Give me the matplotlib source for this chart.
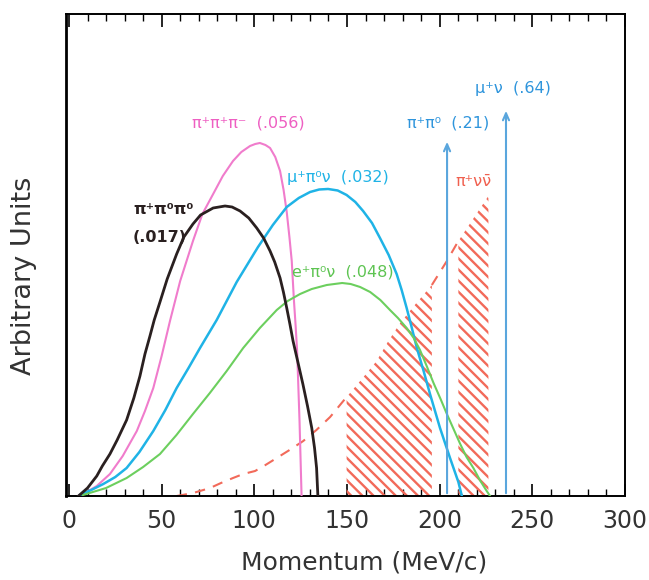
import matplotlib.pyplot as plt
import numpy as np
from matplotlib.ticker import MultipleLocator

# momentum spectra (x in MeV/c, y in arbitrary units)
x_3pi0 = [5.1, 10, 15, 18, 22.1, 26, 31.1, 35, 38.3, 41, 43.7, 46, 49.1, 53,
          58.1, 62, 66.9, 71, 77.8, 84.2, 88, 92.3, 97, 101.3, 105, 108.5,
          111, 113.9, 115.7, 117.5, 119.2, 120.9, 123.5, 126.2, 128.7, 131.0,
          132.5, 133.6, 134.3]
y_3pi0 = [0, 8, 20, 30, 42, 56, 76, 98, 120, 142, 160, 176, 194, 217,
          242, 259, 272, 281, 288, 290, 289, 285, 278, 268, 258, 245,
          234, 218, 204, 188, 172, 155, 134, 112, 90, 68,
          48, 28, 0]

x_3pi = [7.7, 15, 22.1, 29, 36.6, 41, 45.5, 50, 54.5, 60, 66.9, 72, 77.8, 83,
         88.5, 93, 97.7, 100.5, 103.0, 106, 108.5, 111.3, 113.9, 115.8, 117.5,
         119, 120.2, 121.4, 122.3, 123.1, 124.4, 125.5]
y_3pi = [2, 10, 22, 40, 65, 85, 108, 140, 175, 215, 255, 282, 302, 320,
         335, 344, 350, 352, 353, 351, 348, 339, 325, 306, 284,
         258, 235, 195, 170, 145, 75, 0]

x_mu3 = [5.9, 12, 18.5, 25, 31.1, 38, 45.5, 52, 58.1, 64.5, 70.7, 79.7, 90.5,
         102, 110, 117.5, 124, 130.1, 135, 139.8, 145, 149.8, 154.5, 158.7,
         163.5, 167.8, 172.5, 176.8, 179.5, 182.2, 185, 187.7, 191.5, 194.8,
         200.2, 205.6, 210.1, 212.0]
y_mu3 = [1, 6, 12, 19, 28, 44, 65, 86, 108, 128, 148, 176, 214,
         249, 271, 289, 298, 304, 306.5, 307, 305.5, 301, 294, 285,
         273, 258, 241, 222, 206, 188, 168, 148, 124, 102,
         68, 38, 14, 0]

x_e3 = [7.5, 20, 31.1, 40, 49.1, 58, 66.9, 76, 85.1, 94, 103.0, 112.1, 118,
        124.7, 131, 139.1, 147.4, 152, 157.1, 162.5, 168, 173.2, 177.5, 182.2,
        186, 189.4, 193, 196.7, 200.5, 203.9, 207.5, 211.1, 214.5, 218.2,
        222, 225.4, 227.2]
y_e3 = [1, 8, 18, 29, 42, 61, 82, 103, 125, 148, 168, 186, 195,
        202, 207, 211, 213, 212, 209, 204, 196, 186, 178, 168,
        158, 146, 130, 113, 97, 82, 67, 52, 39, 28,
        15, 5, 0]

x_pnn = [58.1, 67, 76.1, 82, 88.5, 94, 100.4, 106, 112.1, 119, 126.4, 133.5,
         140.9, 149.8, 158, 166.0, 172, 178.7, 187, 195.8, 203.9, 210.1,
         218, 226.3]
y_pnn = [0, 3, 8, 13, 18, 22, 25, 31, 38, 46, 55, 66,
         79, 99, 117, 135, 154, 173, 192, 211, 235, 255,
         277, 300]

# signal regions for pi+ nu nubar
regions = [(149.8, 195.8), (210.1, 226.3)]

# two-body lines
x_pipi0, y_pipi0 = 204.0, 357
x_munu, y_munu = 235.8, 388

labels = [
    ("π⁺π⁺π⁻  (.056)", 66.2, 373, "#ee5fc2", "normal"),
    ("μ⁺π⁰ν  (.032)", 117.5, 318, "#1fb3e6", "normal"),
    ("e⁺π⁰ν  (.048)", 120.2, 224, "#5ec452", "normal"),
    ("π⁺π⁰  (.21)", 182.2, 373, "#2f95dc", "normal"),
    ("μ⁺ν  (.64)", 219.1, 407, "#2f95dc", "normal"),
    ("π⁺νν\u0304", 208.3, 314, "#f0604f", "normal"),
    ("π⁺π⁰π⁰", 34.5, 286, "#2a2020", "bold"),
    ("(.017)", 34.5, 258, "#2a2020", "bold"),
]

plt.rcParams["hatch.linewidth"] = 1.7

fig = plt.figure(figsize=(6.49, 5.80), dpi=100)
ax = fig.add_axes([0.1017, 0.1448, 0.8613, 0.8311])

ax.plot(x_3pi0, y_3pi0, color="#2a2020", lw=2.0, zorder=4)
ax.plot(x_3pi, y_3pi, color="#f07ccc", lw=1.5, zorder=3)
ax.plot(x_mu3, y_mu3, color="#1fb3e6", lw=1.8, zorder=3)
ax.plot(x_e3, y_e3, color="#6ccf5e", lw=1.5, zorder=3)

xp = np.array(x_pnn)
yp = np.array(y_pnn)
red = "#f26a5a"
outside = [xp <= regions[0][0], (xp >= regions[0][1]) & (xp <= regions[1][0])]
for m in outside:
    ax.plot(xp[m], yp[m], color=red, lw=1.5, ls=(0, (5, 4)), zorder=2)
for lo, hi in regions:
    m = (xp >= lo) & (xp <= hi)
    ax.fill_between(xp[m], 0, yp[m], facecolor="none", edgecolor=red,
                    hatch="\\\\\\", lw=0, zorder=2)

arrow_kw = dict(arrowstyle="->,head_length=0.5,head_width=0.22",
                color="#5aa6dd", lw=1.5)
ax.annotate("", xy=(x_pipi0, y_pipi0), xytext=(x_pipi0, 0), arrowprops=arrow_kw)
ax.annotate("", xy=(x_munu, y_munu), xytext=(x_munu, 0), arrowprops=arrow_kw)

for text, tx, ty, col, w in labels:
    ax.text(tx, ty, text, color=col, fontsize=11.5, fontweight=w,
            ha="left", va="center")

ax.set_xlim(-1.6, 300)
ax.set_ylim(0, 482)
ax.xaxis.set_major_locator(MultipleLocator(50))
ax.xaxis.set_minor_locator(MultipleLocator(10))
ax.set_yticks([])
ax.tick_params(axis="x", which="both", direction="in", top=True, bottom=True,
               labelsize=17, labelcolor="#333333", pad=9)
ax.tick_params(axis="x", which="major", length=9, width=1.2)
ax.tick_params(axis="x", which="minor", length=5, width=1.0)
for s in ax.spines.values():
    s.set_linewidth(1.4)
ax.spines["left"].set_linewidth(2)

ax.set_xlabel("Momentum (MeV/c)", fontsize=18, color="#333333")
ax.set_ylabel("Arbitrary Units", fontsize=19.5, color="#333333")
ax.xaxis.set_label_coords(0.533, -0.112)
ax.yaxis.set_label_coords(-0.052, 0.456)

fig.savefig("out.png", dpi=100)
